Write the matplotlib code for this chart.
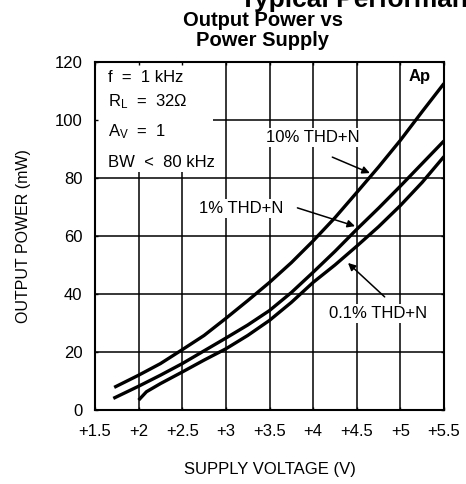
import matplotlib
matplotlib.use('Agg')
import matplotlib.pyplot as plt
from matplotlib.patches import Rectangle

plt.rcParams['font.family'] = ['Liberation Sans', 'DejaVu Sans']
plt.rcParams['mathtext.default'] = 'regular'

# Donnees (tension en V, puissance en mW)
v_10 = [1.72, 2.0, 2.25, 2.5, 2.75, 3.0, 3.25, 3.5, 3.75, 4.0, 4.25, 4.5, 4.75, 5.0, 5.25, 5.5]
p_10 = [7.8, 12.0, 16.0, 20.8, 25.7, 31.6, 37.7, 44.0, 50.8, 58.3, 66.3, 75.0, 83.8, 93.0, 102.9, 112.6]

v_1 = [1.71, 2.0, 2.25, 2.5, 2.75, 3.0, 3.25, 3.5, 3.75, 4.0, 4.25, 4.5, 4.75, 5.0, 5.25, 5.5]
p_1 = [4.0, 8.2, 12.0, 16.0, 20.4, 24.8, 29.3, 34.3, 40.5, 47.5, 54.7, 62.3, 69.6, 77.2, 85.0, 92.8]

v_01 = [2.0, 2.09, 2.25, 2.5, 2.75, 3.0, 3.25, 3.5, 3.75, 4.0, 4.25, 4.5, 4.75, 5.0, 5.25, 5.5]
p_01 = [3.4, 6.3, 9.1, 13.1, 17.2, 21.1, 25.7, 30.9, 37.1, 44.0, 50.0, 56.5, 63.2, 70.5, 78.5, 87.4]

x_ticks = [1.5, 2.0, 2.5, 3.0, 3.5, 4.0, 4.5, 5.0, 5.5]
x_labels = ['+1.5', '+2', '+2.5', '+3', '+3.5', '+4', '+4.5', '+5', '+5.5']
y_ticks = [0, 20, 40, 60, 80, 100, 120]

fig = plt.figure(figsize=(4.66, 4.84), dpi=100)
ax = fig.add_axes([95 / 466, 1 - 410 / 484, 349 / 466, 348 / 484])

# Grille tracee a la main pour pouvoir la masquer sous le cartouche
ax.vlines(x_ticks, 0, 120, colors='black', linewidth=1.1, zorder=1)
ax.hlines(y_ticks, 1.5, 5.5, colors='black', linewidth=1.1, zorder=1)
ax.add_patch(Rectangle((1.5, 82.5), 1.35, 37.5, facecolor='white', edgecolor='none', zorder=1.5))

for v, p in [(v_10, p_10), (v_1, p_1), (v_01, p_01)]:
    ax.plot(v, p, color='black', linewidth=2.4, solid_capstyle='butt',
            solid_joinstyle='round', zorder=3)

ax.set_xlim(1.5, 5.5)
ax.set_ylim(0, 120)
ax.set_xticks(x_ticks)
ax.set_xticklabels(x_labels)
ax.set_yticks(y_ticks)
ax.set_axisbelow(False)
ax.tick_params(direction='in', length=2.5, width=1, top=True, right=True,
               labelsize=12)
ax.tick_params(axis='x', pad=10)
ax.tick_params(axis='y', pad=9)
for s in ax.spines.values():
    s.set_linewidth(1.5)

ax.set_xlabel('SUPPLY VOLTAGE (V)', fontsize=12, labelpad=17)
ax.set_ylabel('OUTPUT POWER (mW)', fontsize=11.5, labelpad=17)

# Cartouche des conditions de mesure
cond = ['f  =  1 kHz', 'R$_L$  =  32\u03a9', 'A$_V$  =  1', 'BW  <  80 kHz']
cond_y = [114.8, 106.2, 95.9, 85.2]
for t, y in zip(cond, cond_y):
    ax.text(1.65, y, t, fontsize=12, va='center', ha='left', zorder=4,
            bbox=dict(facecolor='white', edgecolor='none', pad=1))

ax.text(5.225, 115, 'Ap', fontsize=12, fontweight='bold', ha='center', va='center', zorder=4)

arrow = dict(arrowstyle='-|>', color='black', lw=1.1, mutation_scale=11, shrinkA=0, shrinkB=0)
box = dict(facecolor='white', edgecolor='none', pad=1.5)
ax.text(4.0, 94.1, '10% THD+N', fontsize=12, ha='center', va='center', bbox=box, zorder=4)
ax.annotate('', xy=(4.65, 81.7), xytext=(4.22, 87.2), arrowprops=arrow, zorder=4)
ax.text(3.18, 69.6, '1% THD+N', fontsize=12, ha='center', va='center', bbox=box, zorder=4)
ax.annotate('', xy=(4.48, 63.4), xytext=(3.82, 69.7), arrowprops=arrow, zorder=4)
ax.text(4.74, 33.4, '0.1% THD+N', fontsize=12, ha='center', va='center', bbox=box, zorder=4)
ax.annotate('', xy=(4.40, 50.7), xytext=(4.82, 39.0), arrowprops=arrow, zorder=4)

# Titre general coupe en haut, comme sur l'original
fig.text(240 / 466, 1 - 7 / 484, 'Typical Performance Characteristics', fontsize=19,
         fontweight='bold', ha='left', va='baseline')
fig.text(263 / 466, 1 - 21 / 484, 'Output Power vs', fontsize=14.5, fontweight='bold',
         ha='center', va='center')
fig.text(263 / 466, 1 - 41 / 484, 'Power Supply', fontsize=14.5, fontweight='bold',
         ha='center', va='center')

plt.savefig('out.png', dpi=100)
print("Figure sauvegardee sous 'out.png'")
